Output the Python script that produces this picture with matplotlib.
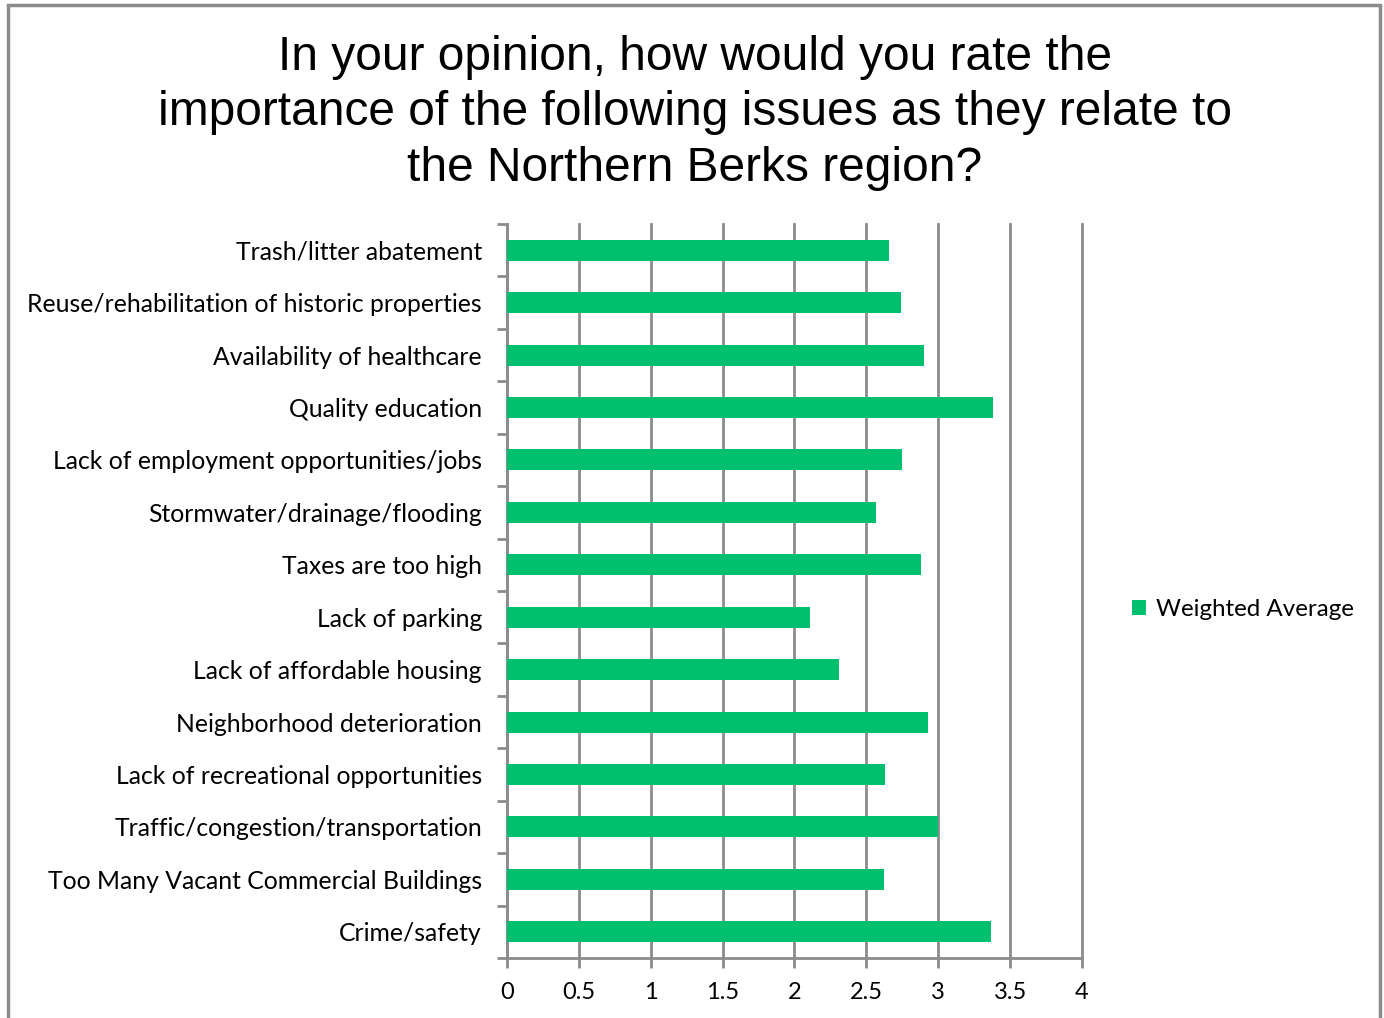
import matplotlib.pyplot as plt
import numpy as np
from matplotlib.patches import Rectangle

issues = ["Trash/litter abatement",
          "Reuse/rehabilitation of historic properties",
          "Availability of healthcare",
          "Quality education",
          "Lack of employment opportunities/jobs",
          "Stormwater/drainage/flooding",
          "Taxes are too high",
          "Lack of parking",
          "Lack of affordable housing",
          "Neighborhood deterioration",
          "Lack of recreational opportunities",
          "Traffic/congestion/transportation",
          "Too Many Vacant Commercial Buildings",
          "Crime/safety"]
weighted_avg = [2.66, 2.74, 2.90, 3.38, 2.75, 2.57, 2.88, 2.11, 2.31,
                2.93, 2.63, 3.00, 2.62, 3.37]
xticks = [0, 0.5, 1, 1.5, 2, 2.5, 3, 3.5, 4]
xticklabels = ["0", "0.5", "1", "1.5", "2", "2.5", "3", "3.5", "4"]

green = "#00BF6F"
grey = "#8C8C8C"
label_font = "Lato"

fig = plt.figure(figsize=(13.84, 10.18), dpi=100)
# outer frame
fig.patches.append(Rectangle((8 / 1384, -0.01), 1372 / 1384, 1.0 - 5 / 1018 + 0.01,
                             transform=fig.transFigure, fill=False,
                             edgecolor=grey, linewidth=2.5))

ax = fig.add_axes([0.3663, 0.0589, 0.4155, 0.7211])

y = np.arange(len(issues))
ax.barh(y, weighted_avg, height=0.4, color=green, zorder=3,
        label="Weighted Average")
ax.set_ylim(len(issues) - 0.5, -0.5)
ax.set_xlim(0, 4)

ax.set_xticks(xticks)
ax.set_xticklabels(xticklabels, fontsize=17, family=label_font)
ax.set_yticks(y)
ax.set_yticklabels(issues, fontsize=17.8, family=label_font)
ax.set_yticks(np.arange(len(issues) + 1) - 0.5, minor=True)
ax.tick_params(axis="y", which="major", length=0, pad=18)
ax.tick_params(axis="y", which="minor", length=7, width=2, color=grey)
ax.tick_params(axis="x", which="major", length=7, width=2, color=grey, pad=10)

ax.grid(axis="x", color=grey, linewidth=2, zorder=0)
for line in ax.get_xgridlines():
    line.set_clip_on(False)
for s in ["top", "right"]:
    ax.spines[s].set_visible(False)
for s in ["left", "bottom"]:
    ax.spines[s].set_color(grey)
    ax.spines[s].set_linewidth(2)

leg = fig.legend(loc="center left", bbox_to_anchor=(0.802, 0.401), frameon=False,
                 prop={"family": label_font, "size": 17.4},
                 handlelength=0.6, handleheight=0.6, handletextpad=0.4)

fig.text(0.502, 0.889,
         "In your opinion, how would you rate the\n"
         "importance of the following issues as they relate to\n"
         "the Northern Berks region?",
         ha="center", va="center", fontsize=34.5, family="Liberation Sans",
         linespacing=1.3)

fig.savefig("out.png", dpi=100)
